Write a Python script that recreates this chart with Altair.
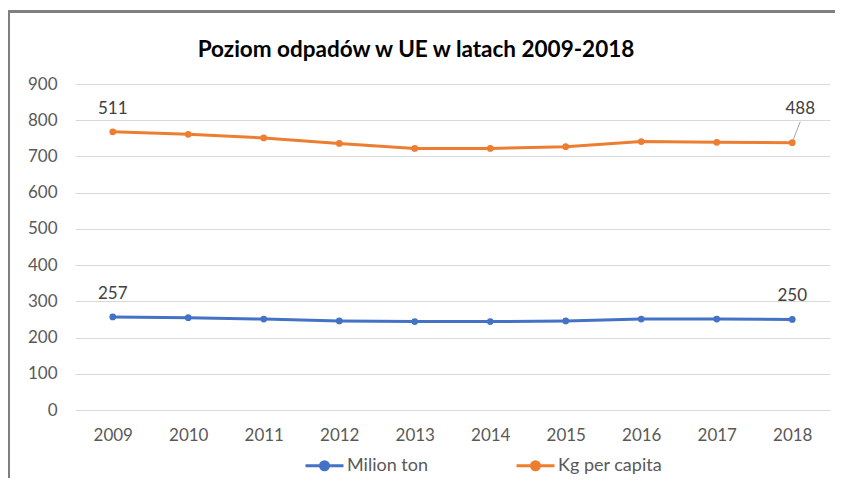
import altair as alt
import pandas as pd

years = ["2009", "2010", "2011", "2012", "2013", "2014", "2015", "2016", "2017", "2018"]
series_names = ["Milion ton", "Kg per capita"]
milion_ton = [257, 255, 251, 246, 244, 244, 246, 251, 251, 250]
kg_per_capita = [511, 506, 500, 490, 478, 478, 481, 490, 488, 488]
colors = ["#4472C4", "#ED7D31"]
y_ticks = [0, 100, 200, 300, 400, 500, 600, 700, 800, 900]
title_text = ["Poziom odpadów w UE w latach 2009-2018"]

rows = []
for i, y in enumerate(years):
    pos = "first" if i == 0 else ("last" if i == len(years) - 1 else "mid")
    rows.append({"year": y, "series": series_names[0], "value": milion_ton[i], "order": 0, "pos": pos})
    rows.append({"year": y, "series": series_names[1], "value": kg_per_capita[i], "order": 1, "pos": pos})
df = pd.DataFrame(rows)

FONT = "Lato"
GRAY = "#595959"

base = alt.Chart(df).transform_stack(
    stack="value", groupby=["year"], as_=["v0", "v1"], sort=[alt.SortField("order")]
)

x_enc = alt.X("year:O", title=None, sort=years,
              scale=alt.Scale(type="point", padding=0.5),
              axis=alt.Axis(labelAngle=0, ticks=False, domain=False, grid=False,
                            labelPadding=17, labelFontSize=17, labelColor=GRAY, labelFont=FONT))
y_enc = alt.Y("v1:Q", title=None,
              scale=alt.Scale(domain=[0, 900], nice=False),
              axis=alt.Axis(values=y_ticks, ticks=False, domain=False, grid=True,
                            gridColor="#D9D9D9", gridWidth=1, labelPadding=18,
                            labelFontSize=17, labelColor=GRAY, labelFont=FONT))

legend_path = "M-1,0L1,0M0.21,0A0.21,0.21,0,1,1,-0.21,0A0.21,0.21,0,1,1,0.21,0Z"
scale_c = alt.Scale(domain=series_names, range=colors)
leg = alt.Legend(title=None, orient="none", legendX=229, legendY=361, direction="horizontal",
                 symbolType=legend_path, symbolSize=1444, symbolStrokeWidth=3,
                 labelFontSize=18, labelColor=GRAY, labelFont=FONT, labelOffset=2,
                 columnPadding=82)

lines = base.mark_line(strokeWidth=3).encode(
    x=x_enc, y=y_enc,
    stroke=alt.Stroke("series:N", scale=scale_c, sort=series_names, legend=leg),
    detail="series:N",
)
points = base.mark_point(filled=True, size=45, opacity=1).encode(
    x=x_enc, y=y_enc,
    fill=alt.Fill("series:N", scale=scale_c, sort=series_names, legend=leg),
)

labels_main = base.transform_filter(
    "datum.pos == 'first' || (datum.pos == 'last' && datum.order == 0)"
).mark_text(dy=-23, fontSize=17, color="#404040", font=FONT).encode(
    x=x_enc, y=y_enc, text="value:Q"
)
labels_last = base.transform_filter(
    "datum.pos == 'last' && datum.order == 1"
).mark_text(dy=-34, dx=8, fontSize=17, color="#404040", font=FONT).encode(
    x=x_enc, y=y_enc, text="value:Q"
)
leader = base.transform_filter(
    "datum.pos == 'last' && datum.order == 1"
).mark_rule(color="#A6A6A6", strokeWidth=1, xOffset=1, yOffset=-3, x2Offset=8, y2Offset=-21).encode(
    x=x_enc, x2="year:O", y=y_enc, y2="v1:Q"
)

border = alt.Chart(df).mark_rect(fill=None, stroke="#7F7F7F", strokeWidth=1.5).encode(
    x=alt.value(-66.5), y=alt.value(-72.5), x2=alt.value(900), y2=alt.value(600)
)

title = alt.Chart(pd.DataFrame({"t": title_text})).mark_text(
    font=FONT, fontSize=22.5, fontWeight="bold", color="#000000", baseline="middle", align="center"
).encode(x=alt.value(341), y=alt.value(-34), text="t:N")

chart = alt.layer(border, lines, points, leader, labels_main, labels_last, title).properties(
    width=755, height=326,
    autosize=alt.AutoSizeParams(type="none"),
    padding={"left": 67, "top": 76, "right": 5, "bottom": 68},
).configure_view(stroke=None)

chart.save("out.html", embed_options={"renderer": "svg", "actions": False})
